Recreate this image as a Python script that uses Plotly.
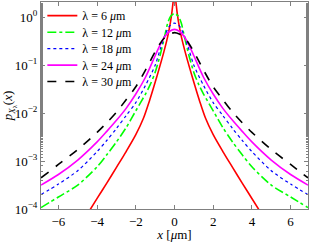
import plotly.graph_objects as go

# ---- data (symmetric curves) ----
x_red = [-4.5, -4, -3.5, -3, -2.5, -2, -1.6, -1.3, -1.07, -0.8, -0.55, -0.35, -0.2, -0.07, 0,
         0.07, 0.2, 0.35, 0.55, 0.8, 1.07, 1.3, 1.6, 2, 2.5, 3, 3.5, 4, 4.5]
y_red = [7.9e-5, 1.66e-4, 3.47e-4, 7.4e-4, 1.58e-3, 3.55e-3, 7.9e-3, 1.78e-2, 3.55e-2, 8.3e-2, 0.19, 0.40, 0.83, 2.14, 5.0,
         2.14, 0.83, 0.40, 0.19, 8.3e-2, 3.55e-2, 1.78e-2, 7.9e-3, 3.55e-3, 1.58e-3, 7.4e-4, 3.47e-4, 1.66e-4, 7.9e-5]

x_green = [-6.9, -6, -5, -4, -3.5, -3, -2.5, -2, -1.5, -1.25, -1, -0.75, -0.5, -0.35, -0.2, 0,
           0.2, 0.35, 0.5, 0.75, 1, 1.25, 1.5, 2, 2.5, 3, 3.5, 4, 5, 6, 6.9]
y_green = [1.07e-4, 1.78e-4, 3.16e-4, 7.6e-4, 1.35e-3, 2.51e-3, 5.0e-3, 1.12e-2, 2.51e-2, 3.98e-2, 7.1e-2, 0.158, 0.417, 0.759, 1.05, 1.2,
           1.05, 0.759, 0.417, 0.158, 7.1e-2, 3.98e-2, 2.51e-2, 1.12e-2, 5.0e-3, 2.51e-3, 1.35e-3, 7.6e-4, 3.16e-4, 1.78e-4, 1.07e-4]

x_std = [-6.9, -6, -5, -4, -3.5, -3, -2.5, -2, -1.5, -1, -0.75, -0.5, -0.25, 0,
         0.25, 0.5, 0.75, 1, 1.5, 2, 2.5, 3, 3.5, 4, 5, 6, 6.9]
y_blue = [2.0e-4, 3.31e-4, 6.31e-4, 1.58e-3, 2.69e-3, 4.79e-3, 8.9e-3, 1.66e-2, 3.8e-2, 0.1, 0.209, 0.417, 0.661, 0.759,
          0.661, 0.417, 0.209, 0.1, 3.8e-2, 1.66e-2, 8.9e-3, 4.79e-3, 2.69e-3, 1.58e-3, 6.31e-4, 3.31e-4, 2.0e-4]
y_mag = [3.16e-4, 5.25e-4, 1.05e-3, 2.51e-3, 4.17e-3, 7.08e-3, 1.26e-2, 2.51e-2, 5.62e-2, 0.158, 0.263, 0.398, 0.513, 0.562,
         0.513, 0.398, 0.263, 0.158, 5.62e-2, 2.51e-2, 1.26e-2, 7.08e-3, 4.17e-3, 2.51e-3, 1.05e-3, 5.25e-4, 3.16e-4]
y_black = [4.47e-4, 8.5e-4, 1.74e-3, 3.98e-3, 6.31e-3, 1.05e-2, 1.91e-2, 3.55e-2, 7.94e-2, 0.191, 0.282, 0.380, 0.447, 0.479,
           0.447, 0.380, 0.282, 0.191, 7.94e-2, 3.55e-2, 1.91e-2, 1.05e-2, 6.31e-3, 3.98e-3, 1.74e-3, 8.5e-4, 4.47e-4]

names = ["λ = 6 <i>μ</i>m", "λ = 12 <i>μ</i>m", "λ = 18 <i>μ</i>m", "λ = 24 <i>μ</i>m", "λ = 30 <i>μ</i>m"]
x_ticks = [-6, -4, -2, 0, 2, 4, 6]
x_ticktext = ["−6", "−4", "−2", "0", "2", "4", "6"]
y_tickvals = [1e-4, 1e-3, 1e-2, 1e-1, 1]
y_ticktext = ["10<sup>−4</sup>", "10<sup>−3</sup>", "10<sup>−2</sup>", "10<sup>−1</sup>", "10<sup>0</sup>"]

FONT = "Liberation Serif"

fig = go.Figure()
series = [
    (x_red, y_red, "#ff0000", "solid", 1.6),
    (x_green, y_green, "#00ff00", "dashdot", 1.6),
    (x_std, y_blue, "#0000ff", "dot", 1.2),
    (x_std, y_mag, "#ff00ff", "solid", 1.6),
    (x_std, y_black, "#000000", "dash", 1.6),
]
legend_ids = ["legend", "legend2", "legend3", "legend4", "legend5"]
legend_y = [0.934, 0.854, 0.775, 0.695, 0.616]   # centres of the legend rows (paper units)
for (xs, ys, c, d, w), nm, lid in zip(series, names, legend_ids):
    fig.add_trace(go.Scatter(x=xs, y=ys, mode="lines", name=nm, legend=lid,
                             line=dict(color=c, dash=d, width=w, shape="spline", smoothing=0.8)))

axis_common = dict(showline=True, linecolor="#808080", linewidth=1, mirror="ticks",
                   ticks="inside", tickcolor="#808080", showgrid=False, zeroline=False,
                   tickfont=dict(family=FONT, size=13, color="black"))
fig.update_xaxes(range=[-6.9, 6.9], tickvals=x_ticks, ticktext=x_ticktext, ticklen=4,
                 title=dict(text="<i>x</i> [<i>μ</i>m]", font=dict(family=FONT, size=13, color="black"),
                            standoff=3),
                 **axis_common)
fig.update_yaxes(type="log", range=[-4, 0.32], tickvals=y_tickvals, ticktext=y_ticktext, ticklen=4,
                 minor=dict(ticks="inside", ticklen=2, tickcolor="#808080", showgrid=False),
                 title=dict(text="<i>p</i><sub><i>X</i><sub>λ</sub></sub>(<i>x</i>)",
                            font=dict(family=FONT, size=13, color="black"), standoff=4),
                 **axis_common)

legend_layout = {}
for lid, ly in zip(legend_ids, legend_y):
    legend_layout[lid] = dict(x=0.005, y=ly, xanchor="left", yanchor="middle",
                              bgcolor="rgba(0,0,0,0)", borderwidth=0,
                              font=dict(family=FONT, size=12, color="black"),
                              itemwidth=30, tracegroupgap=0)

fig.update_layout(
    width=311, height=242,
    margin=dict(l=41, r=3, t=1, b=31),
    paper_bgcolor="white", plot_bgcolor="white",
    showlegend=True,
    **legend_layout,
)
fig.write_html("out.html", config={"displayModeBar": False},
               post_script="document.body.style.margin='0';document.body.style.overflow='hidden';")
